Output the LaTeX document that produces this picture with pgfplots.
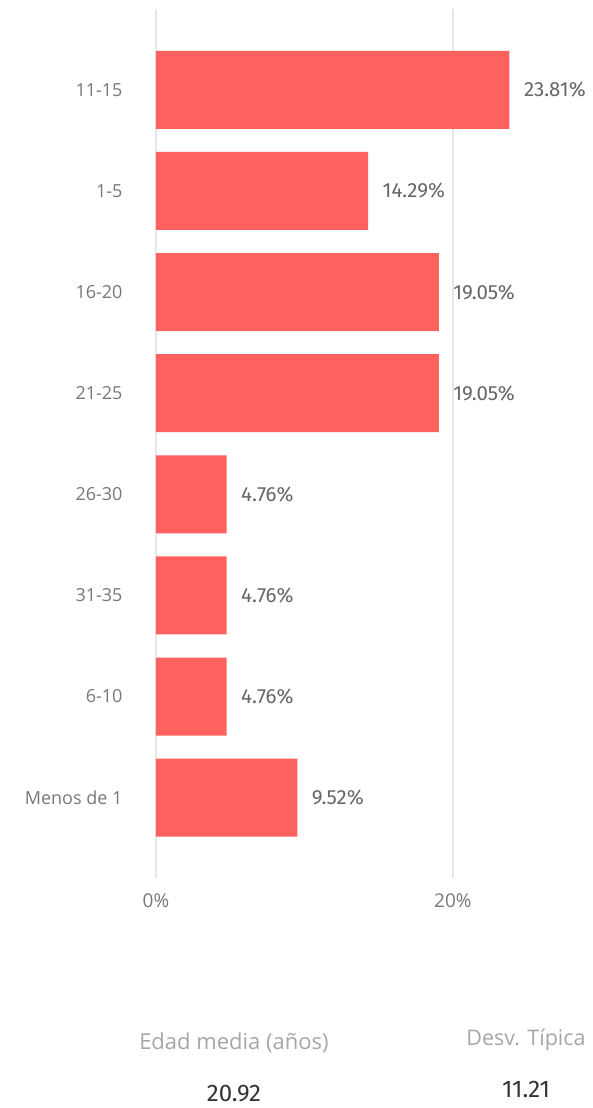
\documentclass[border=0pt]{standalone}
\usepackage{pgfplots}
\pgfplotsset{compat=1.18}
\usepackage{fontspec}
\setmainfont{Open Sans}
\newfontfamily\valfont{Fira Sans}
\definecolor{barred}{HTML}{FD625E}
\definecolor{lblgray}{HTML}{777777}
\definecolor{valgray}{HTML}{666666}
\definecolor{gridgray}{HTML}{E6E6E6}
\definecolor{cardgray}{HTML}{A6A6A6}
\definecolor{cardval}{HTML}{333333}
\begin{document}
\begin{tikzpicture}[x=1pt,y=1pt]
\useasboundingbox (0,0) rectangle (593,1108);
\begin{axis}[
  at={(156pt,1099pt)}, anchor=north west,
  scale only axis,
  width=386pt, height=869.5pt,
  xmin=0, xmax=26,
  ymin=-0.8, ymax=7.8,
  y dir=reverse,
  axis line style={draw=none},
  /pgf/number format/assume math mode=true,
  xtick={0,20},
  xticklabels={0\%,20\%},
  ytick={0,...,7},
  yticklabels={11-15,1-5,16-20,21-25,26-30,31-35,6-10,Menos de 1},
  major tick length=0pt,
  xmajorgrids=true,
  grid style={gridgray, line width=1.2pt},
  xticklabel style={font=\fontsize{19}{22}\selectfont, text=lblgray, yshift=-12pt},
  yticklabel style={font=\fontsize{18}{21}\selectfont, text=lblgray, xshift=-30pt},
  xbar,
  bar width=78pt,
  bar shift=0pt,
  nodes near coords={\pgfmathprintnumber[fixed,fixed zerofill,precision=2,assume math mode=true]{\pgfplotspointmeta}\%},
  nodes near coords style={font=\valfont\fontsize{20.5}{23}\selectfont, text=valgray, anchor=west, xshift=11pt},
  point meta=explicit,
]
\addplot[fill=barred, draw=none] coordinates {
(23.81,0) [23.81]
(14.29,1) [14.29]
(19.05,2) [19.05]
(19.05,3) [19.05]
(4.76,4) [4.76]
(4.76,5) [4.76]
(4.76,6) [4.76]
(9.52,7) [9.52]
};
\end{axis}
\node[font=\fontsize{22}{25}\selectfont, text=cardgray] at (234,1108-1043) {Edad media (años)};
\node[font=\valfont\fontsize{24}{27}\selectfont, text=cardval] at (234,1108-1094) {20.92};
\node[font=\fontsize{21.5}{25}\selectfont, text=cardgray] at (526,1108-1040) {Desv. Típica};
\node[font=\valfont\fontsize{24}{27}\selectfont, text=cardval] at (526,1108-1089) {11.21};
\end{tikzpicture}
\end{document}
